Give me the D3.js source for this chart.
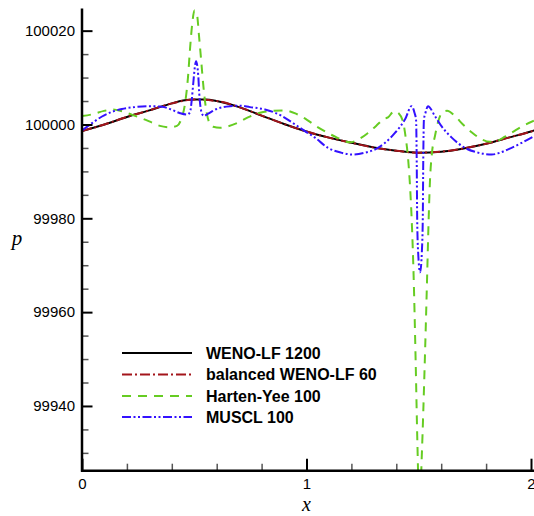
<!DOCTYPE html>
<html>
<head>
<meta charset="utf-8">
<script src="https://cdn.jsdelivr.net/npm/d3@7"></script>
<style>
  html, body { margin: 0; padding: 0; background: #fff; }
  svg { display: block; }
</style>
</head>
<body>
<svg id="chart" width="534" height="516"></svg>
<script>
// Pressure p(x) for the perturbed hydrostatic test, four schemes.
// Reference solution: WENO-LF on 1200 cells
const xWeno = [0, 0.1, 0.2, 0.3, 0.4, 0.45, 0.5, 0.55, 0.6, 0.7, 0.8, 0.9, 1.0, 1.1, 1.2, 1.3, 1.4, 1.5, 1.6, 1.7, 1.8, 1.9, 2.0, 2.02];
const pWeno = [99998.6, 100000.0, 100001.6, 100003.0, 100004.5, 100005.1, 100005.3, 100005.3, 100005.0, 100003.7, 100001.9, 100000.1,
               99998.5, 99997.2, 99996.1, 99995.1, 99994.4, 99994.0, 99994.2, 99994.9, 99995.9, 99997.2, 99998.5, 99998.8];

// Balanced WENO-LF on 60 cells
const xBalanced = [0, 0.1, 0.2, 0.3, 0.4, 0.5, 0.6, 0.7, 0.8, 0.9, 1.0, 1.1, 1.2, 1.3, 1.4, 1.5, 1.6, 1.7, 1.8, 1.9, 2.0, 2.02];
const pBalanced = [99998.6, 100000.0, 100001.6, 100003.0, 100004.5, 100005.3, 100005.0, 100003.7, 100001.9, 100000.1,
                   99998.5, 99997.2, 99996.1, 99995.1, 99994.4, 99994.0, 99994.2, 99994.9, 99995.9, 99997.2, 99998.5, 99998.8];

// Harten-Yee on 100 cells
const xHartenYee = [0, 0.049, 0.098, 0.138, 0.178, 0.227, 0.267, 0.312, 0.347, 0.392, 0.423, 0.441, 0.459, 0.472, 0.481, 0.490,
                    0.501, 0.512, 0.521, 0.532, 0.541, 0.552, 0.566, 0.584, 0.615, 0.650, 0.695, 0.739, 0.793, 0.846, 0.900,
                    0.953, 1.002, 1.047, 1.091, 1.136, 1.194, 1.238, 1.274, 1.310, 1.345, 1.363, 1.390, 1.412, 1.430, 1.441,
                    1.452, 1.461, 1.470, 1.477, 1.486, 1.494, 1.503, 1.514, 1.526, 1.537, 1.543, 1.550, 1.559, 1.572, 1.586,
                    1.604, 1.626, 1.661, 1.697, 1.737, 1.782, 1.817, 1.849, 1.884, 1.916, 1.960, 2.013];
const pHartenYee = [100001.8, 100002.2, 100002.9, 100003.2, 100002.8, 100002.0, 100001.3, 100000.4, 99999.7, 99999.4, 99999.7,
                    100001.0, 100004.5, 100010.0, 100016.0, 100021.0, 100024.3, 100023.5, 100019.0, 100013.0, 100008.0, 100003.5,
                    100000.5, 99999.5, 99999.3, 99999.6, 100000.4, 100001.5, 100002.5, 100002.9, 100003.0, 100002.3, 100001.0,
                    99999.5, 99998.3, 99997.2, 99996.2, 99997.0, 99998.2, 99999.7, 100001.2, 100001.5, 100002.8, 100002.3,
                    100000.6, 99997.5, 99993.0, 99987.0, 99978.0, 99968.0, 99950.0, 99932.0, 99918.0, 99930.0, 99948.0,
                    99967.0, 99978.0, 99988.0, 99994.0, 99997.5, 100000.5, 100002.5, 100002.9, 100001.8, 100000.0, 99998.3,
                    99996.8, 99996.3, 99996.5, 99997.4, 99998.3, 99999.6, 100000.8];

// MUSCL on 100 cells
const xMuscl = [0, 0.045, 0.089, 0.134, 0.178, 0.236, 0.303, 0.356, 0.401, 0.437, 0.468, 0.481, 0.489, 0.496, 0.503, 0.508,
                0.518, 0.522, 0.533, 0.543, 0.555, 0.600, 0.659, 0.704, 0.748, 0.815, 0.860, 0.891, 0.949, 0.993, 1.038,
                1.096, 1.154, 1.203, 1.261, 1.318, 1.350, 1.394, 1.439, 1.468, 1.481, 1.488, 1.491, 1.493, 1.497, 1.506,
                1.514, 1.518, 1.520, 1.523, 1.530, 1.541, 1.572, 1.602, 1.647, 1.706, 1.764, 1.825, 1.898, 1.959, 2.013];
const pMuscl = [99998.7, 100000.3, 100001.7, 100002.7, 100003.3, 100003.7, 100003.9, 100003.8, 100003.1, 100002.4, 100002.1,
                100002.6, 100005.3, 100009.0, 100012.4, 100013.5, 100010.3, 100006.8, 100002.5, 100001.8, 100002.1, 100003.3,
                100003.9, 100004.0, 100003.7, 100003.2, 100002.5, 100001.8, 100000.0, 99998.6, 99997.2, 99995.0, 99994.0,
                99993.6, 99994.0, 99995.0, 99996.1, 99998.2, 100001.1, 100003.9, 100002.5, 100001.0, 99992.0, 99980.0,
                99973.0, 99968.5, 99973.0, 99980.0, 99992.0, 100001.0, 100002.5, 100003.9, 100001.8, 99999.6, 99997.2,
                99995.0, 99994.0, 99993.6, 99994.7, 99996.1, 99997.5];

const legendLabels = ["WENO-LF 1200", "balanced WENO-LF 60", "Harten-Yee 100", "MUSCL 100"];
const xMajorTicks = [0, 1, 2];
const xMinorTicks = [0.2, 0.4, 0.6, 0.8, 1.2, 1.4, 1.6, 1.8];
const yMajorTicks = [99940, 99960, 99980, 100000, 100020];
const yMinorTicks = [99930, 99935, 99945, 99950, 99955, 99965, 99970, 99975, 99985, 99990, 99995, 100005, 100010, 100015];

const svg = d3.select("#chart");
const W = 534;
const plotLeft = 82, plotBottom = 470.7, plotTop = 8.6;

const x = d3.scaleLinear().domain([0, 2]).range([plotLeft, 531]);
const y = d3.scaleLinear().domain([99926.2, 100024.7]).range([plotBottom, plotTop]);

const sansFont = "'Liberation Sans', Arial, Helvetica, sans-serif";
const serifFont = "'Liberation Serif', 'Times New Roman', serif";

// plotting region clip
svg.append("defs").append("clipPath").attr("id", "plotClip")
  .append("rect").attr("x", plotLeft).attr("y", plotTop)
  .attr("width", W - plotLeft).attr("height", plotBottom - plotTop);

const series = [
  { xs: xWeno, ps: pWeno, color: "#000000", dash: null, width: 2 },
  { xs: xBalanced, ps: pBalanced, color: "#a3151b", dash: "10,3,2,3", width: 2 },
  { xs: xHartenYee, ps: pHartenYee, color: "#66cc22", dash: "9,7", width: 2 },
  { xs: xMuscl, ps: pMuscl, color: "#3311ff", dash: "9,2.5,2,2.5,2,2.5", width: 2 }
];

const line = d3.line().x(d => x(d[0])).y(d => y(d[1])).curve(d3.curveMonotoneX);

const plot = svg.append("g").attr("clip-path", "url(#plotClip)");
series.forEach(s => {
  const pts = s.xs.map((v, i) => [v, s.ps[i]]);
  plot.append("path")
    .datum(pts)
    .attr("d", line)
    .attr("fill", "none")
    .attr("stroke", s.color)
    .attr("stroke-width", s.width)
    .attr("stroke-dasharray", s.dash)
    .attr("stroke-linejoin", "round");
});

// axes: ticks pointing into the plot
function styleAxis(g, major) {
  g.select(".domain").remove();
  g.selectAll(".tick line").attr("stroke", major ? "#000" : "#555").attr("stroke-width", major ? 2 : 1.5);
  g.selectAll(".tick text").attr("fill", "#000").style("font-family", sansFont).style("font-size", "15px");
}

svg.append("g").attr("transform", `translate(0,${plotBottom})`)
  .call(d3.axisBottom(x).tickValues(xMinorTicks).tickSize(-7).tickFormat(""))
  .call(g => styleAxis(g, false));
svg.append("g").attr("transform", `translate(0,${plotBottom})`)
  .call(d3.axisBottom(x).tickValues(xMajorTicks).tickSize(-12).tickPadding(8).tickFormat(d3.format("d")))
  .call(g => styleAxis(g, true));

svg.append("g").attr("transform", `translate(${plotLeft},0)`)
  .call(d3.axisLeft(y).tickValues(yMinorTicks).tickSize(-6.5).tickFormat(""))
  .call(g => styleAxis(g, false));
svg.append("g").attr("transform", `translate(${plotLeft},0)`)
  .call(d3.axisLeft(y).tickValues(yMajorTicks).tickSize(-10.5).tickPadding(7).tickFormat(d3.format("d")))
  .call(g => styleAxis(g, true));

// axis lines
svg.append("line").attr("x1", plotLeft).attr("x2", plotLeft).attr("y1", plotTop).attr("y2", plotBottom + 1)
  .attr("stroke", "#000").attr("stroke-width", 2.5);
svg.append("line").attr("x1", plotLeft - 1).attr("x2", W).attr("y1", plotBottom).attr("y2", plotBottom)
  .attr("stroke", "#000").attr("stroke-width", 2.5);

// axis titles
svg.append("text").attr("x", x(1)).attr("y", 511).attr("text-anchor", "middle")
  .style("font-family", serifFont).style("font-style", "italic").style("font-size", "20px").text("x");
svg.append("text").attr("x", 17).attr("y", 245).attr("text-anchor", "middle")
  .style("font-family", serifFont).style("font-style", "italic").style("font-size", "21px").text("p");

// legend
const legend = svg.append("g");
const legendY = [353, 374.5, 396, 417];
series.forEach((s, i) => {
  legend.append("line")
    .attr("x1", 122).attr("x2", 192).attr("y1", legendY[i]).attr("y2", legendY[i])
    .attr("stroke", s.color).attr("stroke-width", s.width).attr("stroke-dasharray", s.dash);
  legend.append("text")
    .attr("x", 206).attr("y", legendY[i]).attr("dy", "0.36em")
    .style("font-family", sansFont).style("font-weight", "bold").style("font-size", "16px")
    .text(legendLabels[i]);
});
</script>
</body>
</html>
